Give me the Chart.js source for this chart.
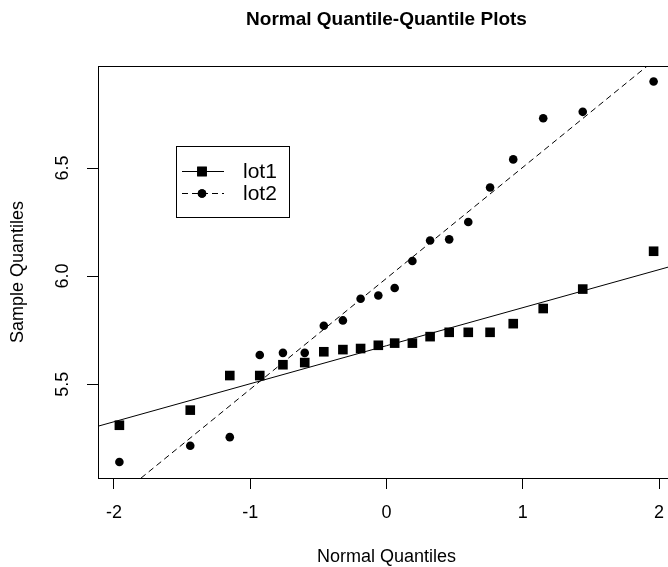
<!DOCTYPE html>
<html>
<head>
<meta charset="utf-8">
<script src="https://cdn.jsdelivr.net/npm/chart.js@4/dist/chart.umd.min.js"></script>
<style>
  html, body { margin: 0; padding: 0; background: #fff; overflow: hidden; }
  canvas { display: block; }
</style>
</head>
<body>
<canvas id="qq" width="680" height="567"></canvas>
<script>
// theoretical normal quantiles (x) and sorted samples (y)
const normalQuantiles = [-1.96, -1.44, -1.15, -0.93, -0.76, -0.60, -0.46, -0.32, -0.19, -0.06,
                          0.06, 0.19, 0.32, 0.46, 0.60, 0.76, 0.93, 1.15, 1.44, 1.96];
const lot1 = [5.31, 5.38, 5.54, 5.54, 5.59, 5.60, 5.65, 5.66, 5.665, 5.68,
              5.69, 5.69, 5.72, 5.74, 5.74, 5.74, 5.78, 5.85, 5.94, 6.115];
const lot2 = [5.14, 5.215, 5.255, 5.635, 5.645, 5.645, 5.77, 5.795, 5.895, 5.91,
              5.945, 6.07, 6.165, 6.17, 6.25, 6.41, 6.54, 6.73, 6.76, 6.90];

// qqline end points
const lineX = [-2.2, 2.2];
const line1Y = [5.291, 6.065];
const line2Y = [4.861, 7.119];

const seriesNames = ['lot1', 'lot2'];
const xTicks = [-2, -1, 0, 1, 2];
const yTicks = [5.5, 6.0, 6.5];
const yTickLabels = ['5.5', '6.0', '6.5'];

const FONT = '"Liberation Sans", Arial, sans-serif';

const toPts = (xs, ys) => xs.map((x, i) => ({ x: x, y: ys[i] }));

// box, texts and legend drawn R style
const rStyle = {
  id: 'rStyle',
  afterDraw(chart) {
    const { ctx, chartArea: a, scales } = chart;
    ctx.save();
    ctx.strokeStyle = '#000';
    ctx.lineWidth = 1;
    ctx.strokeRect(Math.round(a.left) + 0.5, Math.round(a.top) + 0.5,
                   Math.round(a.right - a.left), Math.round(a.bottom - a.top));

    ctx.fillStyle = '#000';
    const cx = (a.left + a.right) / 2;
    const cy = (a.top + a.bottom) / 2;

    // title
    ctx.font = 'bold 19px ' + FONT;
    ctx.textAlign = 'center';
    ctx.textBaseline = 'middle';
    ctx.fillText('Normal Quantile-Quantile Plots', cx, 20);

    // x tick labels
    ctx.font = '18px ' + FONT;
    xTicks.forEach(v => {
      ctx.fillText(String(v), scales.x.getPixelForValue(v), 513);
    });
    // x title
    ctx.fillText('Normal Quantiles', cx, 557);

    // y tick labels, rotated
    yTicks.forEach((v, i) => {
      ctx.save();
      ctx.translate(63, scales.y.getPixelForValue(v));
      ctx.rotate(-Math.PI / 2);
      ctx.fillText(yTickLabels[i], 0, 0);
      ctx.restore();
    });
    // y title
    ctx.save();
    ctx.translate(18, cy);
    ctx.rotate(-Math.PI / 2);
    ctx.fillText('Sample Quantiles', 0, 0);
    ctx.restore();

    // legend
    ctx.strokeRect(176.5, 146.5, 113, 71);
    const rows = [171, 193];
    ctx.font = '21px ' + FONT;
    ctx.textAlign = 'left';
    seriesNames.forEach((name, i) => {
      const y = rows[i];
      const lineDs = chart.data.datasets[i + 2];
      const ptDs = chart.data.datasets[i];
      ctx.save();
      ctx.setLineDash(lineDs.borderDash || []);
      ctx.beginPath();
      ctx.moveTo(182, y + 0.5);
      ctx.lineTo(224, y + 0.5);
      ctx.stroke();
      ctx.restore();
      Chart.helpers.drawPoint(ctx, {
        pointStyle: ptDs.pointStyle,
        radius: ptDs.pointRadius,
        borderWidth: 0,
        rotation: 0
      }, 202, y + 0.5);
      ctx.fill();
      ctx.fillText(name, 243, y + 1);
    });
    ctx.restore();
  }
};

const ctx = document.getElementById('qq').getContext('2d');
new Chart(ctx, {
  type: 'scatter',
  data: {
    datasets: [
      {
        label: 'lot1',
        data: toPts(normalQuantiles, lot1),
        pointStyle: 'rect',
        pointRadius: 6.8,
        pointBackgroundColor: '#000',
        pointBorderWidth: 0,
      },
      {
        label: 'lot2',
        data: toPts(normalQuantiles, lot2),
        pointStyle: 'circle',
        pointRadius: 4.3,
        pointBackgroundColor: '#000',
        pointBorderWidth: 0,
      },
      {
        label: 'lot1 line',
        data: toPts(lineX, line1Y),
        showLine: true,
        pointRadius: 0,
        borderColor: '#000',
        borderWidth: 1,
        clip: 0,
      },
      {
        label: 'lot2 line',
        data: toPts(lineX, line2Y),
        showLine: true,
        pointRadius: 0,
        borderColor: '#000',
        borderWidth: 1,
        borderDash: [6, 4],
        clip: 0,
      },
    ],
  },
  options: {
    responsive: false,
    animation: false,
    layout: {
      autoPadding: false,
      padding: { top: 66, right: 5, left: 0, bottom: 0 },
    },
    plugins: {
      legend: { display: false },
      tooltip: { enabled: false },
    },
    scales: {
      x: {
        type: 'linear',
        min: -2.117,
        max: 2.117,
        afterFit(scale) { scale.height = 89; },
        ticks: { display: false, stepSize: 1, includeBounds: false },
        grid: {
          drawOnChartArea: false,
          drawTicks: true,
          tickLength: 11,
          color: '#000',
        },
        border: { display: true, color: '#000' },
      },
      y: {
        type: 'linear',
        min: 5.066,
        max: 6.972,
        afterFit(scale) { scale.width = 98; },
        ticks: { display: false, stepSize: 0.5, includeBounds: false },
        grid: {
          drawOnChartArea: false,
          drawTicks: true,
          tickLength: 11,
          color: '#000',
        },
        border: { display: true, color: '#000' },
      },
    },
  },
  plugins: [rStyle],
});
</script>
</body>
</html>
